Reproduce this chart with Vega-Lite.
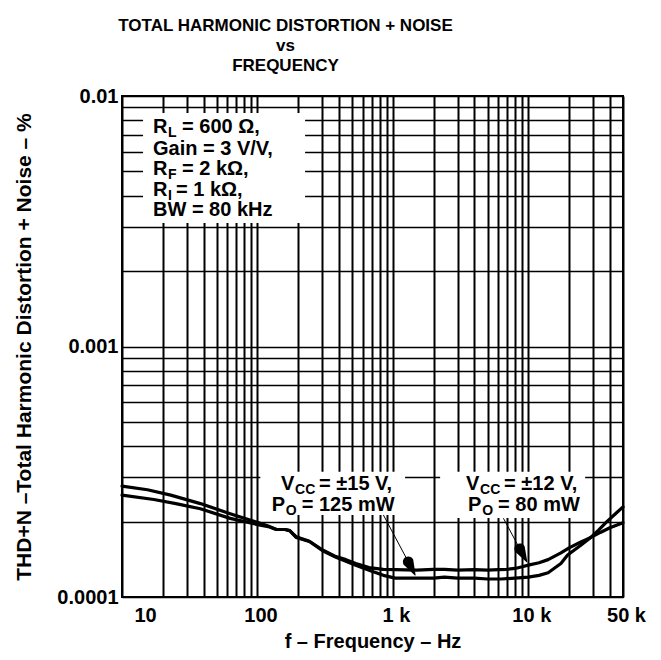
{
  "$schema": "https://vega.github.io/schema/vega-lite/v6.json",
  "width": 501,
  "height": 501,
  "autosize": {"type": "none"},
  "padding": {"left": 122, "top": 96, "right": 38, "bottom": 63},
  "background": "white",
  "config": {"view": {"stroke": "black", "strokeWidth": 2}, "font": "Liberation Sans"},
  "title": {
    "text": ["TOTAL HARMONIC DISTORTION + NOISE", "vs", "FREQUENCY"],
    "font": "Liberation Sans",
    "fontSize": 17,
    "fontWeight": "bold",
    "lineHeight": 20,
    "anchor": "middle",
    "dx": -87,
    "offset": 11,
    "color": "black"
  },
  "datasets": {
    "curves": [
      {"s": "12V", "f": 10, "thd": 0.000277},
      {"s": "12V", "f": 15.4, "thd": 0.000268},
      {"s": "12V", "f": 22.9, "thd": 0.000255},
      {"s": "12V", "f": 37.9, "thd": 0.000236},
      {"s": "12V", "f": 62.9, "thd": 0.000215},
      {"s": "12V", "f": 98.5, "thd": 0.000199},
      {"s": "12V", "f": 120, "thd": 0.000192},
      {"s": "12V", "f": 138, "thd": 0.000186},
      {"s": "12V", "f": 160, "thd": 0.000186},
      {"s": "12V", "f": 173, "thd": 0.000184},
      {"s": "12V", "f": 193, "thd": 0.000174},
      {"s": "12V", "f": 242, "thd": 0.000167},
      {"s": "12V", "f": 303, "thd": 0.000154},
      {"s": "12V", "f": 380, "thd": 0.000145},
      {"s": "12V", "f": 450, "thd": 0.000141},
      {"s": "12V", "f": 532, "thd": 0.000136},
      {"s": "12V", "f": 667, "thd": 0.000131},
      {"s": "12V", "f": 850, "thd": 0.000129},
      {"s": "12V", "f": 1040, "thd": 0.0001285},
      {"s": "12V", "f": 1500, "thd": 0.000128},
      {"s": "12V", "f": 2000, "thd": 0.000129},
      {"s": "12V", "f": 2400, "thd": 0.000129},
      {"s": "12V", "f": 3000, "thd": 0.000128},
      {"s": "12V", "f": 4000, "thd": 0.0001285},
      {"s": "12V", "f": 5000, "thd": 0.000128},
      {"s": "12V", "f": 6000, "thd": 0.0001285},
      {"s": "12V", "f": 7000, "thd": 0.000129},
      {"s": "12V", "f": 8000, "thd": 0.00013},
      {"s": "12V", "f": 9000, "thd": 0.000132},
      {"s": "12V", "f": 10000, "thd": 0.000134},
      {"s": "12V", "f": 12000, "thd": 0.000137},
      {"s": "12V", "f": 14000, "thd": 0.000141},
      {"s": "12V", "f": 17400, "thd": 0.00015},
      {"s": "12V", "f": 20000, "thd": 0.000157},
      {"s": "12V", "f": 24000, "thd": 0.000165},
      {"s": "12V", "f": 29000, "thd": 0.000173},
      {"s": "12V", "f": 34000, "thd": 0.000181},
      {"s": "12V", "f": 40000, "thd": 0.000189},
      {"s": "12V", "f": 50000, "thd": 0.000198},
      {"s": "15V", "f": 10, "thd": 0.000255},
      {"s": "15V", "f": 17.2, "thd": 0.000245},
      {"s": "15V", "f": 25, "thd": 0.000236},
      {"s": "15V", "f": 37.9, "thd": 0.000225},
      {"s": "15V", "f": 62.9, "thd": 0.000206},
      {"s": "15V", "f": 98.5, "thd": 0.000195},
      {"s": "15V", "f": 120, "thd": 0.000191},
      {"s": "15V", "f": 138, "thd": 0.000186},
      {"s": "15V", "f": 160, "thd": 0.000186},
      {"s": "15V", "f": 173, "thd": 0.000184},
      {"s": "15V", "f": 193, "thd": 0.000173},
      {"s": "15V", "f": 242, "thd": 0.0001665},
      {"s": "15V", "f": 303, "thd": 0.000153},
      {"s": "15V", "f": 380, "thd": 0.000144},
      {"s": "15V", "f": 450, "thd": 0.000139},
      {"s": "15V", "f": 532, "thd": 0.000134},
      {"s": "15V", "f": 667, "thd": 0.000128},
      {"s": "15V", "f": 850, "thd": 0.000122},
      {"s": "15V", "f": 1040, "thd": 0.000119},
      {"s": "15V", "f": 1500, "thd": 0.000119},
      {"s": "15V", "f": 2000, "thd": 0.000119},
      {"s": "15V", "f": 2400, "thd": 0.00012},
      {"s": "15V", "f": 3000, "thd": 0.000119},
      {"s": "15V", "f": 4000, "thd": 0.000119},
      {"s": "15V", "f": 5000, "thd": 0.000118},
      {"s": "15V", "f": 6300, "thd": 0.000118},
      {"s": "15V", "f": 8000, "thd": 0.000119},
      {"s": "15V", "f": 10000, "thd": 0.00012},
      {"s": "15V", "f": 12000, "thd": 0.000122},
      {"s": "15V", "f": 14000, "thd": 0.000125},
      {"s": "15V", "f": 17400, "thd": 0.000136},
      {"s": "15V", "f": 19500, "thd": 0.000147},
      {"s": "15V", "f": 24400, "thd": 0.000161},
      {"s": "15V", "f": 28900, "thd": 0.000173},
      {"s": "15V", "f": 33000, "thd": 0.000185},
      {"s": "15V", "f": 38000, "thd": 0.0002},
      {"s": "15V", "f": 44000, "thd": 0.000215},
      {"s": "15V", "f": 50000, "thd": 0.000229}
    ],
    "boxes": [
      {"f1": 14.3, "f2": 224.7, "v1": 0.00855, "v2": 0.00311},
      {"f1": 105, "f2": 1230, "v1": 0.000316, "v2": 0.0002125},
      {"f1": 2232, "f2": 26270, "v1": 0.000316, "v2": 0.0002067}
    ],
    "arrows": [
      {"f1": 851, "v1": 0.0002125, "f2": 1330, "v2": 0.0001350},
      {"f1": 6548, "v1": 0.0002062, "f2": 8800, "v2": 0.0001530}
    ],
    "heads": [
      {"a": 1, "part": "base", "f": 1300, "v": 0.0001380},
      {"a": 1, "part": "tip", "f": 1459, "v": 0.0001224},
      {"a": 2, "part": "base", "f": 8650, "v": 0.0001556},
      {"a": 2, "part": "tip", "f": 9748, "v": 0.0001383}
    ],
    "notes": [
      {"f": 16.94, "v": 0.007098, "t": "R"},
      {"f": 27.74, "v": 0.007098, "t": "= 600 Ω,"},
      {"f": 16.94, "v": 0.005814, "t": "Gain = 3 V/V,"},
      {"f": 16.94, "v": 0.004838, "t": "R"},
      {"f": 27.74, "v": 0.004838, "t": "= 2  kΩ,"},
      {"f": 16.94, "v": 0.003989, "t": "R"},
      {"f": 25.04, "v": 0.003989, "t": "= 1 kΩ,"},
      {"f": 16.94, "v": 0.003319, "t": "BW = 80 kHz"},
      {"f": 149.4, "v": 0.0002674, "t": "V"},
      {"f": 285.1, "v": 0.0002674, "t": "= ±15 V,"},
      {"f": 127.6, "v": 0.0002204, "t": "P"},
      {"f": 212.4, "v": 0.0002204, "t": "= 125 mW"},
      {"f": 3472, "v": 0.0002674, "t": "V"},
      {"f": 6626, "v": 0.0002674, "t": "= ±12 V,"},
      {"f": 3592, "v": 0.0002204, "t": "P"},
      {"f": 5984, "v": 0.0002204, "t": "= 80 mW"}
    ],
    "subs": [
      {"f": 21.86, "v": 0.007098, "t": "L"},
      {"f": 21.86, "v": 0.004838, "t": "F"},
      {"f": 21.86, "v": 0.003989, "t": "I"},
      {"f": 189.5, "v": 0.0002674, "t": "CC"},
      {"f": 161.8, "v": 0.0002204, "t": "O"},
      {"f": 4406, "v": 0.0002674, "t": "CC"},
      {"f": 4559, "v": 0.0002204, "t": "O"}
    ]
  },
  "layer": [
    {
      "data": {"name": "boxes"},
      "mark": {"type": "rect", "fill": "white", "stroke": null},
      "encoding": {
        "x": {
          "field": "f1", "type": "quantitative",
          "scale": {"type": "log", "domain": [10, 50000], "nice": false},
          "axis": {
            "orient": "bottom",
            "values": [10, 20, 30, 40, 50, 60, 70, 80, 90, 100, 200, 300, 400, 500, 600, 700, 800, 900, 1000, 2000, 3000, 4000, 5000, 6000, 7000, 8000, 9000, 10000, 20000, 30000, 40000, 50000],
            "labels": false, "ticks": false, "domain": false, "title": null,
            "grid": true, "gridColor": "black", "gridWidth": 2, "gridOpacity": 1
          }
        },
        "x2": {"field": "f2"},
        "y": {
          "field": "v1", "type": "quantitative",
          "scale": {"type": "log", "domain": [0.0001, 0.01], "nice": false},
          "axis": {
            "orient": "left",
            "values": [0.0001, 0.0002, 0.0003, 0.0004, 0.0005, 0.0006, 0.0007, 0.0008, 0.0009, 0.001, 0.002, 0.003, 0.004, 0.005, 0.006, 0.007, 0.008, 0.009, 0.01],
            "labels": false, "ticks": false, "domain": false, "title": null,
            "grid": true, "gridColor": "black", "gridWidth": 1.5, "gridOpacity": 1
          }
        },
        "y2": {"field": "v2"}
      }
    },
    {
      "data": {"name": "curves"},
      "mark": {"type": "line", "color": "black", "strokeWidth": 3.2, "strokeJoin": "round", "strokeCap": "round"},
      "encoding": {
        "x": {
          "field": "f", "type": "quantitative",
          "axis": {
            "orient": "bottom",
            "values": [10, 100, 1000, 10000, 50000],
            "labelExpr": "datum.value >= 1000 ? format(datum.value / 1000, 'd') + ' k' : format(datum.value, 'd')",
            "grid": false, "ticks": false, "tickSize": 0, "domain": false,
            "labelFont": "Liberation Sans", "labelFontSize": 20, "labelFontWeight": "bold", "labelColor": "black",
            "labelPadding": 8, "labelFlush": false, "labelOverlap": false,
            "labelOffset": {"condition": {"test": "datum.value == 10", "value": 23}, "value": 3},
            "title": "f – Frequency – Hz",
            "titleFont": "Liberation Sans", "titleFontSize": 20, "titleFontWeight": "bold", "titleColor": "black",
            "titlePadding": 6
          }
        },
        "y": {
          "field": "thd", "type": "quantitative",
          "axis": {
            "orient": "left",
            "values": [0.0001, 0.001, 0.01],
            "labelExpr": "datum.value < 0.0005 ? '0.0001' : (datum.value < 0.005 ? '0.001' : '0.01')",
            "grid": false, "ticks": false, "tickSize": 0, "domain": false,
            "labelFont": "Liberation Sans", "labelFontSize": 20, "labelFontWeight": "bold", "labelColor": "black",
            "labelPadding": 4, "labelFlush": false, "labelOverlap": false, "labelBaseline": "middle",
            "title": "THD+N –Total Harmonic Distortion + Noise – %",
            "titleFont": "Liberation Sans", "titleFontSize": 21, "titleFontWeight": "bold", "titleColor": "black",
            "titlePadding": 22
          }
        },
        "detail": {"field": "s", "type": "nominal"}
      }
    },
    {
      "data": {"name": "arrows"},
      "mark": {"type": "rule", "color": "black", "strokeWidth": 1},
      "encoding": {
        "x": {"field": "f1", "type": "quantitative", "axis": null},
        "y": {"field": "v1", "type": "quantitative", "axis": null},
        "x2": {"field": "f2"},
        "y2": {"field": "v2"}
      }
    },
    {
      "data": {"name": "heads"},
      "mark": {"type": "trail", "color": "black", "opacity": 1},
      "encoding": {
        "x": {"field": "f", "type": "quantitative", "axis": null},
        "y": {"field": "v", "type": "quantitative", "axis": null},
        "order": {"field": "part", "type": "nominal"},
        "detail": {"field": "a", "type": "nominal"},
        "size": {"field": "part", "type": "nominal", "scale": {"domain": ["base", "tip"], "range": [11, 0]}, "legend": null}
      }
    },
    {
      "data": {"name": "notes"},
      "mark": {"type": "text", "align": "left", "baseline": "alphabetic", "font": "Liberation Sans", "fontSize": 20, "fontWeight": "bold", "color": "black"},
      "encoding": {
        "x": {"field": "f", "type": "quantitative", "axis": null},
        "y": {"field": "v", "type": "quantitative", "axis": null},
        "text": {"field": "t"}
      }
    },
    {
      "data": {"name": "subs"},
      "mark": {"type": "text", "align": "left", "baseline": "alphabetic", "dy": 4, "font": "Liberation Sans", "fontSize": 14, "fontWeight": "bold", "color": "black"},
      "encoding": {
        "x": {"field": "f", "type": "quantitative", "axis": null},
        "y": {"field": "v", "type": "quantitative", "axis": null},
        "text": {"field": "t"}
      }
    }
  ],
  "resolve": {"axis": {"x": "independent", "y": "independent"}}
}
